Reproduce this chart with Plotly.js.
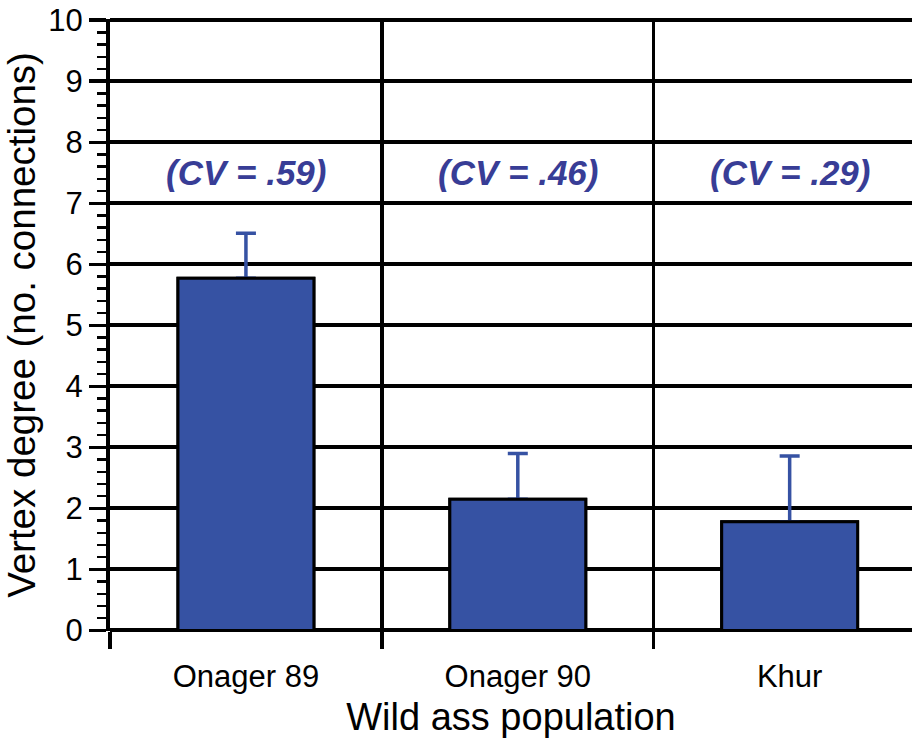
<!DOCTYPE html>
<html>
<head>
<meta charset="utf-8">
<script src="https://cdn.plot.ly/plotly-3.0.1.min.js"></script>
<style>html,body{margin:0;padding:0;background:#fff;}#chart{width:912px;height:738px;}</style>
</head>
<body>
<div id="chart"></div>
<script>
const categories = ["Onager 89", "Onager 90", "Khur"];
const meanDegree = [5.77, 2.15, 1.78];
const errorUp = [0.74, 0.75, 1.08];
const cvLabels = ["(CV = .59)", "(CV = .46)", "(CV = .29)"];
const cvLabelY = [7.5, 7.5, 7.5];

const barColor = "#3652A3";
const textBlue = "#383D96";

const base = {
  type: "bar",
  x: categories,
  y: meanDegree,
  width: 0.5,
  marker: {color: barColor, line: {color: "#000", width: 3}},
  hoverinfo: "skip",
  showlegend: false
};

const traces = [
  Object.assign({}, base, {
    error_y: {type: "data", array: errorUp, arrayminus: errorUp.map(() => 0), symmetric: false,
              color: barColor, thickness: 3.5, width: 10}
  }),
  Object.assign({}, base)
];

const annotations = categories.map((c, i) => ({
  x: c, y: cvLabelY[i], xref: "x", yref: "y",
  text: "<b><i>" + cvLabels[i] + "</i></b>",
  showarrow: false,
  font: {family: "Liberation Sans, Arial, sans-serif", size: 35, color: textBlue}
}));

const layout = {
  width: 912, height: 738,
  margin: {l: 110, r: 0, t: 19, b: 107},
  paper_bgcolor: "#fff", plot_bgcolor: "#fff",
  barmode: "overlay",
  font: {family: "Liberation Sans, Arial, sans-serif", color: "#000"},
  xaxis: {
    type: "category",
    range: [-0.5, 2.45],
    tickson: "boundaries",
    ticks: "outside", ticklen: 17, tickwidth: 3.5, tickcolor: "#000",
    ticklabelstandoff: 24,
    showgrid: true, gridcolor: "#000", gridwidth: 3.5,
    showline: false, zeroline: false,
    tickfont: {size: 31, color: "#000"},
    title: {text: "Wild ass population", font: {size: 38, color: "#000"}, standoff: 10}
  },
  yaxis: {
    range: [-0.01, 10.02],
    tickvals: [0,1,2,3,4,5,6,7,8,9,10],
    ticks: "outside", ticklen: 17, tickwidth: 3.5, tickcolor: "#000",
    minor: {dtick: 0.2, ticks: "outside", ticklen: 9, tickwidth: 2.5, tickcolor: "#000", showgrid: false},
    showgrid: true, gridcolor: "#000", gridwidth: 4,
    zeroline: true, zerolinecolor: "#000", zerolinewidth: 4,
    showline: true, linecolor: "#000", linewidth: 4,
    tickfont: {size: 31, color: "#000"},
    title: {text: "Vertex degree (no. connections)", font: {size: 38.5, color: "#000"}, standoff: 10}
  },
  annotations: annotations
};

Plotly.newPlot("chart", traces, layout, {displayModeBar: false, staticPlot: true});
</script>
</body>
</html>
